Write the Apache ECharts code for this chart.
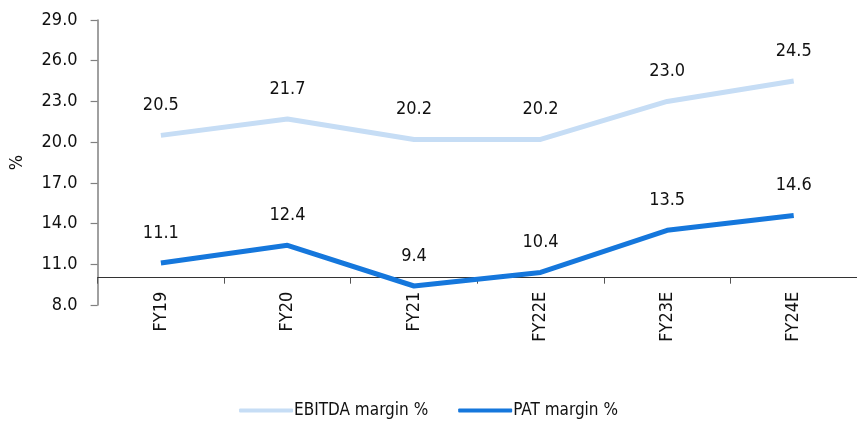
<!DOCTYPE html>
<html>
<head>
<meta charset="utf-8">
<script src="https://cdn.jsdelivr.net/npm/echarts@6/dist/echarts.min.js"></script>
<style>
  html, body { margin: 0; padding: 0; background: #fff; }
  #main { width: 857px; height: 425px; }
</style>
</head>
<body>
<div id="main"></div>
<script>
// data
var years = ['FY19', 'FY20', 'FY21', 'FY22E', 'FY23E', 'FY24E'];
var ebitdaMargin = [20.5, 21.7, 20.2, 20.2, 23.0, 24.5];
var patMargin = [11.1, 12.4, 9.4, 10.4, 13.5, 14.6];

var FONT = "'DejaVu Sans Condensed', 'Liberation Sans Narrow', sans-serif";

var myChart = echarts.init(document.getElementById('main'), null, { renderer: 'canvas' });

function lineSeries(name, data, color) {
  return {
    type: 'line',
    name: name,
    data: data,
    symbol: 'circle',
    symbolSize: 0,
    showSymbol: true,
    lineStyle: { width: 5, color: color },
    itemStyle: { color: color },
    label: {
      show: true,
      position: 'top',
      distance: 21,
      color: '#111',
      fontFamily: FONT,
      fontSize: 18,
      formatter: function (p) { return p.value.toFixed(1); }
    },
    emphasis: { disabled: true },
    z: 3
  };
}

var option = {
  animation: false,
  backgroundColor: '#fff',
  textStyle: { fontFamily: FONT },
  grid: { left: 97.6, right: -7, top: 20, bottom: 120 },
  legend: {
    bottom: 1,
    left: 'center',
    itemWidth: 54,
    itemHeight: 4,
    itemGap: 30,
    icon: 'roundRect',
    textStyle: { fontFamily: FONT, fontSize: 17, color: '#111', padding: [0, 0, 0, -4] },
    data: ['EBITDA margin %', 'PAT margin %']
  },
  xAxis: {
    type: 'category',
    data: years,
    boundaryGap: true,
    offset: -27.3,
    axisLine: { show: true, lineStyle: { color: '#333', width: 1.2 } },
    axisTick: { show: true, length: 6, lineStyle: { color: '#555' } },
    axisLabel: {
      rotate: 90,
      margin: 14,
      color: '#111',
      fontFamily: FONT,
      fontSize: 18
    },
    splitLine: { show: false }
  },
  yAxis: {
    type: 'value',
    min: 8,
    max: 29,
    interval: 3,
    name: '%',
    nameLocation: 'middle',
    nameGap: 71,
    nameTextStyle: { fontFamily: FONT, fontSize: 18, color: '#111' },
    axisLine: { show: true, lineStyle: { color: '#808080', width: 1.5 } },
    axisTick: { show: true, length: 7, lineStyle: { color: '#808080', width: 1.2 } },
    axisLabel: {
      margin: 20,
      color: '#111',
      fontFamily: FONT,
      fontSize: 18,
      formatter: function (v) { return v.toFixed(1); }
    },
    splitLine: { show: false }
  },
  series: [
    lineSeries('EBITDA margin %', ebitdaMargin, '#c6ddf5'),
    lineSeries('PAT margin %', patMargin, '#1577dc')
  ]
};

myChart.setOption(option);
</script>
</body>
</html>
